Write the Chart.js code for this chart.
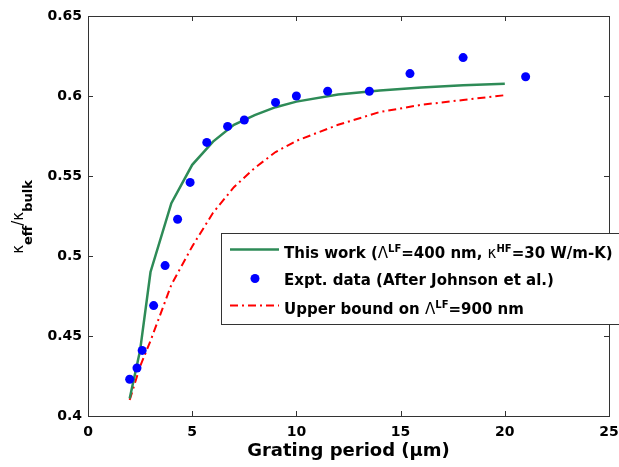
<!DOCTYPE html>
<html>
<head>
<meta charset="utf-8">
<script src="https://cdn.jsdelivr.net/npm/chart.js@4.4.0/dist/chart.umd.min.js"></script>
<style>
  body { margin: 0; background: #fff; }
  #wrap { width: 619px; height: 467px; position: relative; }
</style>
</head>
<body>
<div id="wrap"><canvas id="kappaChart" width="619" height="467"></canvas></div>
<script>
// measured points (Johnson et al.)
const periodExpt = [2.0, 2.35, 2.6, 3.15, 3.7, 4.3, 4.9, 5.7, 6.7, 7.5, 9.0, 10.0, 11.5, 13.5, 15.45, 18.0, 21.0];
const kappaExpt = [0.423, 0.430, 0.441, 0.469, 0.494, 0.523, 0.546, 0.571, 0.581, 0.585, 0.596, 0.600, 0.603, 0.603, 0.614, 0.624, 0.612];

// model curve, this work
const periodModel = [2, 2.5, 3, 4, 5, 6, 7, 8, 9, 10, 12, 14, 16, 18, 20];
const kappaModel = [0.411, 0.441, 0.490, 0.533, 0.557, 0.5715, 0.582, 0.588, 0.593, 0.5965, 0.601, 0.6035, 0.6053, 0.6067, 0.6077];

// upper bound curve
const periodBound = [2, 2.5, 3, 4, 5, 6, 7, 8, 9, 10, 12, 14, 16, 18, 20];
const kappaBound = [0.410, 0.431, 0.447, 0.482, 0.506, 0.527, 0.543, 0.555, 0.565, 0.572, 0.582, 0.590, 0.5945, 0.5975, 0.6005];

const xTickStep = 5;
const yTickStep = 0.05;

const GREEN = '#2e8b57';
const AXIS = '#333333';
const FONT = '"DejaVu Sans"';

function toPoints(xs, ys) {
    return xs.map((x, i) => ({ x: x, y: ys[i] }));
}

function drawRich(ctx, parts, x, y) {
    for (const p of parts) {
        ctx.font = p.font;
        ctx.fillText(p.t, x, y + (p.dy || 0));
        x += ctx.measureText(p.t).width;
    }
}
function richWidth(ctx, parts) {
    let w = 0;
    for (const p of parts) {
        ctx.font = p.font;
        w += ctx.measureText(p.t).width;
    }
    return w;
}

const B = 'bold 15px ' + FONT;
const SYM = '15px ' + FONT;
const SUP = 'bold 10px ' + FONT;

const legendRows = [
    [{ t: 'This work (', font: B }, { t: 'Λ', font: SYM }, { t: 'LF', font: SUP, dy: -6 },
     { t: '=400 nm, ', font: B }, { t: 'κ', font: SYM }, { t: 'HF', font: SUP, dy: -6 },
     { t: '=30 W/m-K)', font: B }],
    [{ t: 'Expt. data (After Johnson et al.)', font: B }],
    [{ t: 'Upper bound on ', font: B }, { t: 'Λ', font: SYM }, { t: 'LF', font: SUP, dy: -6 },
     { t: '=900 nm', font: B }]
];

const yTitle = [
    { t: 'κ', font: '15px ' + FONT },
    { t: 'eff', font: 'bold 13px ' + FONT, dy: 9 },
    { t: '/', font: '15px ' + FONT },
    { t: 'κ', font: '15px ' + FONT },
    { t: 'bulk', font: 'bold 13px ' + FONT, dy: 9 }
];

// box, inner ticks, y title and legend
const boxPlugin = {
    id: 'box',
    afterDraw(chart) {
        const ctx = chart.ctx;
        const xs = chart.scales.x, ys = chart.scales.y;
        const a = chart.chartArea;
        ctx.save();
        ctx.strokeStyle = AXIS;
        ctx.lineWidth = 1;
        ctx.strokeRect(Math.round(a.left) + 0.5, Math.round(a.top) + 0.5,
                       Math.round(a.right - a.left), Math.round(a.bottom - a.top));
        ctx.beginPath();
        xs.ticks.forEach(t => {
            const px = Math.round(xs.getPixelForValue(t.value)) + 0.5;
            ctx.moveTo(px, a.bottom); ctx.lineTo(px, a.bottom - 5);
            ctx.moveTo(px, a.top); ctx.lineTo(px, a.top + 5);
        });
        ys.ticks.forEach(t => {
            const py = Math.round(ys.getPixelForValue(t.value)) + 0.5;
            ctx.moveTo(a.left, py); ctx.lineTo(a.left + 5, py);
            ctx.moveTo(a.right, py); ctx.lineTo(a.right - 5, py);
        });
        ctx.stroke();

        // y axis title
        ctx.fillStyle = '#000';
        ctx.textBaseline = 'alphabetic';
        ctx.textAlign = 'left';
        ctx.save();
        ctx.translate(23, 217);
        ctx.rotate(-Math.PI / 2);
        drawRich(ctx, yTitle, -richWidth(ctx, yTitle) / 2, 0);
        ctx.restore();

        // legend
        const lx = 221.5, ly = 233.5;
        ctx.fillStyle = '#fff';
        ctx.fillRect(lx, ly, 420, 91);
        ctx.strokeStyle = AXIS;
        ctx.strokeRect(lx, ly, 420, 91);

        ctx.lineWidth = 2.5;
        ctx.strokeStyle = GREEN;
        ctx.beginPath(); ctx.moveTo(230, 249.5); ctx.lineTo(279, 249.5); ctx.stroke();

        ctx.fillStyle = '#0000ff';
        ctx.beginPath(); ctx.arc(255, 278.5, 4.5, 0, Math.PI * 2); ctx.fill();

        ctx.lineWidth = 2;
        ctx.strokeStyle = '#ff0000';
        ctx.setLineDash([8, 4, 2, 4]);
        ctx.beginPath(); ctx.moveTo(230, 305.5); ctx.lineTo(279, 305.5); ctx.stroke();
        ctx.setLineDash([]);

        ctx.fillStyle = '#000';
        drawRich(ctx, legendRows[0], 284, 258);
        drawRich(ctx, legendRows[1], 284, 285);
        drawRich(ctx, legendRows[2], 284, 314);
        ctx.restore();
    }
};

const tickFont = { family: 'DejaVu Sans', size: 14, weight: 'bold' };

const ctx = document.getElementById('kappaChart').getContext('2d');
const chart = new Chart(ctx, {
    type: 'scatter',
    data: {
        datasets: [
            {
                label: 'Expt. data (After Johnson et al.)',
                data: toPoints(periodExpt, kappaExpt),
                backgroundColor: '#0000ff',
                borderColor: '#0000ff',
                pointRadius: 4.5,
                pointBorderWidth: 0,
                order: 0
            },
            {
                label: 'This work',
                data: toPoints(periodModel, kappaModel),
                showLine: true,
                borderColor: GREEN,
                borderWidth: 2.5,
                pointRadius: 0,
                order: 1
            },
            {
                label: 'Upper bound',
                data: toPoints(periodBound, kappaBound),
                showLine: true,
                borderColor: '#ff0000',
                borderWidth: 2,
                borderDash: [8, 4, 2, 4],
                pointRadius: 0,
                order: 2
            }
        ]
    },
    options: {
        responsive: false,
        animation: false,
        layout: { padding: { top: 16, right: 10, left: 0, bottom: 0 } },
        plugins: {
            legend: { display: false },
            tooltip: { enabled: false }
        },
        scales: {
            x: {
                type: 'linear',
                min: 0,
                max: 25,
                ticks: { stepSize: xTickStep, color: '#000', font: tickFont, padding: 8 },
                grid: { display: false, drawTicks: false },
                border: { display: false },
                title: {
                    display: true,
                    text: 'Grating period (μm)',
                    color: '#000',
                    font: { family: 'DejaVu Sans', size: 18, weight: 'bold' },
                    padding: { top: 0, bottom: 5 }
                },
                afterFit(scale) {
                    scale.height = 51;
                    scale.paddingLeft = 0;
                    scale.paddingRight = 0;
                }
            },
            y: {
                type: 'linear',
                min: 0.4,
                max: 0.65,
                ticks: {
                    stepSize: yTickStep,
                    color: '#000',
                    font: tickFont,
                    padding: 6,
                    callback: v => String(+v.toFixed(2))
                },
                grid: { display: false, drawTicks: false },
                border: { display: false },
                afterFit(scale) {
                    scale.width = 88;
                    scale.paddingTop = 0;
                    scale.paddingBottom = 0;
                }
            }
        }
    },
    plugins: [boxPlugin]
});
</script>
</body>
</html>
